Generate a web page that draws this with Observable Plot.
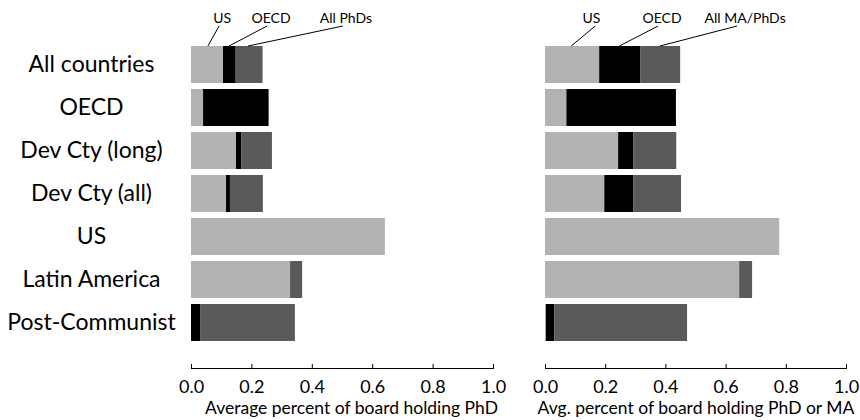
<!DOCTYPE html>
<html><head><meta charset="utf-8">
<script src="https://cdn.jsdelivr.net/npm/d3@7"></script>
<script src="https://cdn.jsdelivr.net/npm/@observablehq/plot@0.6"></script>
<style>
body{margin:0;background:#fff;}
#chart{position:relative;width:860px;height:420px;font-family:Lato,sans-serif;}
#chart svg{position:absolute;top:0;}
</style>
</head><body><div id="chart"></div>
<script>
const categories = ["All countries","OECD","Dev Cty (long)","Dev Cty (all)","US","Latin America","Post-Communist"];
const seriesNames = ["US","OECD","All"];
// Left panel: share of board holding PhD (segment sizes)
const phdUS    = [0.106, 0.040, 0.149, 0.116, 0.642, 0.328, 0.000];
const phdOECD  = [0.042, 0.217, 0.017, 0.013, 0.000, 0.000, 0.030];
const phdOther = [0.089, 0.000, 0.102, 0.109, 0.000, 0.040, 0.314];
// Right panel: share of board holding PhD or MA (segment sizes)
const maUS     = [0.180, 0.071, 0.243, 0.197, 0.778, 0.645, 0.003];
const maOECD   = [0.136, 0.364, 0.050, 0.096, 0.000, 0.000, 0.028];
const maOther  = [0.133, 0.000, 0.143, 0.159, 0.000, 0.043, 0.441];
const xTicks = [0, 0.2, 0.4, 0.6, 0.8, 1.0];
const leftTitle = "Average percent of board holding PhD";
const rightTitle = "Avg. percent of board holding PhD or MA";
// Annotation labels (x in data units)
const leftAnnoText = ["US", "OECD", "All PhDs"];
const leftAnnoLabelX = [0.103, 0.265, 0.513];
const leftAnnoFromX = [0.093, 0.252, 0.503];
const leftAnnoToX = [0.056, 0.126, 0.189];
const rightAnnoText = ["US", "OECD", "All MA/PhDs"];
const rightAnnoLabelX = [0.154, 0.389, 0.665];
const rightAnnoFromX = [0.167, 0.376, 0.638];
const rightAnnoToX = [0.087, 0.247, 0.382];

const colors = ["#b3b3b3", "#000000", "#5a5a5a"];

function longData(us, oecd, other) {
  return categories.flatMap((c, i) => [
    {cat: c, series: "US", value: us[i]},
    {cat: c, series: "OECD", value: oecd[i]},
    {cat: c, series: "All", value: other[i]}
  ]);
}

function panel({data, width, marginLeft, marginRight, title, titleDx, showLabels, annoText, annoLabelX, annoFromX, annoToX}) {
  const marks = [
    Plot.barX(data, {x: "value", y: "cat", fill: "series", order: seriesNames}),
    Plot.frame({anchor: "bottom", stroke: "black"}),
    Plot.axisX({anchor: "bottom", ticks: xTicks, tickFormat: () => "", tickSize: -4, label: null}),
    Plot.text(xTicks, {x: d => d, frameAnchor: "bottom", dy: 19, text: d3.format(".1f"), fontSize: 18, lineAnchor: "middle"}),
    Plot.text([title], {frameAnchor: "bottom", dy: 40, dx: titleDx, text: d => d, fontSize: 17.5, lineAnchor: "middle"})
  ];
  if (showLabels) {
    marks.push(Plot.text(categories, {y: d => d, text: d => d, frameAnchor: "left", dx: -100, textAnchor: "middle", fontSize: 23}));
  }
  const plot = Plot.plot({
    width, height: 420,
    marginLeft, marginRight, marginTop: 30, marginBottom: 52,
    style: {fontFamily: "Lato, sans-serif", color: "black", background: "white"},
    x: {domain: [0, 1], axis: null},
    y: {domain: categories, range: [37.5, 348.5], padding: 0.15, axis: null},
    color: {domain: seriesNames, range: colors},
    marks
  });
  const sx = plot.scale("x"), sy = plot.scale("y");
  const top = sy.apply(categories[0]);
  const g = d3.select(plot).append("g");
  annoText.forEach((t, i) => {
    g.append("line")
      .attr("x1", sx.apply(annoFromX[i])).attr("y1", top - 20)
      .attr("x2", sx.apply(annoToX[i])).attr("y2", top)
      .attr("stroke", "black").attr("stroke-width", 1);
    g.append("text")
      .attr("x", sx.apply(annoLabelX[i])).attr("y", top - 23.5)
      .attr("text-anchor", "middle").attr("font-size", 14)
      .attr("font-family", "Lato, sans-serif").attr("fill", "black")
      .text(t);
  });
  return plot;
}

const left = panel({data: longData(phdUS, phdOECD, phdOther), width: 520, marginLeft: 191, marginRight: 27,
  title: leftTitle, titleDx: 9, showLabels: true,
  annoText: leftAnnoText, annoLabelX: leftAnnoLabelX, annoFromX: leftAnnoFromX, annoToX: leftAnnoToX});
left.style.left = "0px";
const right = panel({data: longData(maUS, maOECD, maOther), width: 340, marginLeft: 25, marginRight: 14,
  title: rightTitle, titleDx: 0, showLabels: false,
  annoText: rightAnnoText, annoLabelX: rightAnnoLabelX, annoFromX: rightAnnoFromX, annoToX: rightAnnoToX});
right.style.left = "520px";
document.getElementById("chart").append(left, right);
</script>
</body></html>
